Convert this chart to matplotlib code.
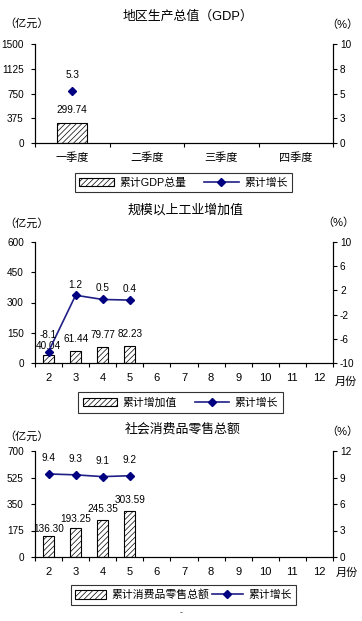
import matplotlib
matplotlib.use('Agg')
import matplotlib.pyplot as plt
from matplotlib.patches import Patch
from matplotlib.lines import Line2D

plt.rcParams['font.family'] = ['Liberation Sans', 'Noto Sans CJK SC', 'DejaVu Sans']
plt.rcParams['hatch.linewidth'] = 0.5
plt.rcParams['axes.unicode_minus'] = False

# ---------------- data ----------------
# chart 1: GDP by quarter
gdp_cats = ['一季度', '二季度', '三季度', '四季度']
gdp_total = [299.74]
gdp_growth = [5.3]

# chart 2: industrial value added by month
months = ['2', '3', '4', '5', '6', '7', '8', '9', '10', '11', '12']
ind_total = [40.04, 61.44, 79.77, 82.23]
ind_growth = [-8.1, 1.2, 0.5, 0.4]

# chart 3: retail sales by month
retail_total = [136.30, 193.25, 245.35, 303.59]
retail_growth = [9.4, 9.3, 9.1, 9.2]

LINE_C = '#1f1f86'
MARK_C = '#000080'

fig = plt.figure(figsize=(3.62, 6.21), dpi=100)
W, H = 362, 621


def box(top, bottom, left=35, right=333):
    return [left / W, 1 - bottom / H, (right - left) / W, (bottom - top) / H]


def fxy(x, y):
    return x / W, 1 - y / H


def panel(rect, cats, bars, line, lylim, lyticks, ryticks, rylabels,
          bar_off, line_off, title, title_xy, unit_y, pct_xy, leg_xy, bar_label,
          colsp=1.6, hlen=3.2):
    ax = fig.add_axes(rect)
    n = len(cats)
    x = list(range(n))
    ax.bar(x[:len(bars)], bars, width=0.4, color='white', edgecolor='black',
           hatch='//////', linewidth=0.8, zorder=2)
    ax.set_xlim(-0.5, n - 0.5)
    ax.set_ylim(*lylim)
    ax.set_yticks(lyticks)
    ax.set_yticklabels([str(v) for v in lyticks])
    # ticks between categories, labels at centres
    ax.set_xticks([i - 0.5 for i in range(n + 1)])
    ax.set_xticklabels([])
    ax.set_xticks(x, minor=True)
    ax.set_xticklabels(cats, minor=True)
    ax.tick_params(axis='x', which='major', direction='out', length=3, width=0.8)
    ax.tick_params(axis='x', which='minor', length=0, pad=7, labelsize=8)
    ax.tick_params(axis='y', direction='out', length=3, width=0.8, pad=5, labelsize=7.2)
    ax.spines['top'].set_visible(False)
    for s in ['left', 'right', 'bottom']:
        ax.spines[s].set_linewidth(0.8)

    ax2 = ax.twinx()
    ax2.plot(x[:len(line)], line, color=LINE_C, linewidth=1.2, marker='D',
             markersize=4.2, markerfacecolor=MARK_C, markeredgecolor=MARK_C, zorder=3)
    ax2.set_ylim(ryticks[0], ryticks[-1])
    ax2.set_yticks(ryticks)
    ax2.set_yticklabels(rylabels)
    ax2.tick_params(axis='y', direction='out', length=3, width=0.8, pad=2, labelsize=7.2)
    ax2.spines['top'].set_visible(False)
    ax2.spines['right'].set_linewidth(0.8)

    for i, v in enumerate(bars):
        ax.annotate(f'{v:.2f}', (i, v), xytext=(0, bar_off[i]),
                    textcoords='offset points', ha='center', va='center',
                    fontsize=7.2, zorder=5)
    for i, v in enumerate(line):
        ax2.annotate(f'{v:.1f}', (i, v), xytext=(0, line_off[i]),
                     textcoords='offset points', ha='center', va='center',
                     fontsize=7.2, zorder=5)

    fig.text(*fxy(*title_xy), title, ha='center', va='center', fontsize=9.3)
    fig.text(*fxy(27, unit_y), '（亿元）', ha='center', va='center', fontsize=8)
    fig.text(*fxy(*pct_xy), '（%）', ha='center', va='center', fontsize=8)

    handles = [Patch(facecolor='white', edgecolor='black', hatch='//////', linewidth=0.8),
               Line2D([], [], color=LINE_C, linewidth=1.2, marker='D', markersize=4.2,
                      markerfacecolor=MARK_C, markeredgecolor=MARK_C)]
    leg = ax.legend(handles, [bar_label, '累计增长'], loc='center',
                    bbox_to_anchor=fxy(*leg_xy), bbox_transform=fig.transFigure,
                    ncol=2, frameon=True, fancybox=False, fontsize=7.8,
                    handlelength=hlen, handleheight=0.8, columnspacing=colsp,
                    handletextpad=0.5, borderpad=0.45)
    leg.get_frame().set_edgecolor('black')
    leg.get_frame().set_linewidth(0.8)
    return ax


# chart 1
panel(box(44, 143), gdp_cats, gdp_total, gdp_growth,
      (0, 1500), [0, 375, 750, 1125, 1500],
      [0, 2.5, 5, 7.5, 10], ['0', '3', '5', '8', '10'],
      [9.5], [11.5], '地区生产总值（GDP）', (188, 17), 23, (342, 25),
      (183.5, 182.5), '累计GDP总量')

# chart 2
panel(box(242, 363), months, ind_total, ind_growth,
      (0, 600), [0, 150, 300, 450, 600],
      [-10, -6, -2, 2, 6, 10], ['-10', '-6', '-2', '2', '6', '10'],
      [6.5, 8.5, 8.5, 9], [12, 7.5, 8, 8], '规模以上工业增加值', (186, 210),
      223, (338, 223), (180.5, 402.5), '累计增加值')
fig.text(*fxy(346, 382), '月份', ha='center', va='center', fontsize=8)

# chart 3
panel(box(451, 557), months, retail_total, retail_growth,
      (0, 700), [0, 175, 350, 525, 700],
      [0, 3, 6, 9, 12], ['0', '3', '6', '9', '12'],
      [5, 6.5, 8, 8], [11.5, 11.5, 11.5, 11.5], '社会消费品零售总额', (183, 429),
      436, (342, 432), (183.5, 595), '累计消费品零售总额', colsp=0.3, hlen=2.8)
fig.text(*fxy(347, 573), '月份', ha='center', va='center', fontsize=8)
fig.text(*fxy(181, 613), '-', ha='center', va='center', fontsize=6)

fig.savefig('out.png', dpi=100)
